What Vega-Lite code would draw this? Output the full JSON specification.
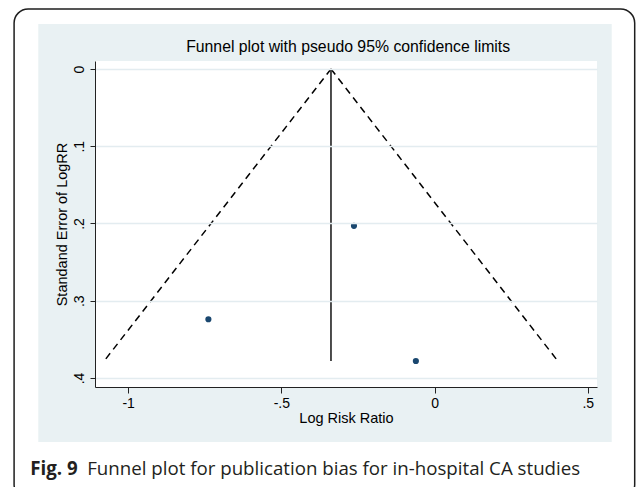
{
  "$schema": "https://vega.github.io/schema/vega-lite/v6.json",
  "width": 502,
  "height": 326,
  "autosize": {"type": "none"},
  "padding": {"left": 95, "top": 61, "right": 40, "bottom": 100},
  "background": "white",
  "datasets": {
    "studies": [
      {"logrr": -0.738, "se": 0.324},
      {"logrr": -0.263, "se": 0.203},
      {"logrr": -0.061, "se": 0.378}
    ],
    "funnel": [
      {"limit": "lower", "logrr": -0.338, "se": 0},
      {"limit": "lower", "logrr": -1.078, "se": 0.378},
      {"limit": "upper", "logrr": -0.338, "se": 0},
      {"limit": "upper", "logrr": 0.402, "se": 0.378}
    ],
    "pooled": [
      {"logrr": -0.338, "se_top": 0, "se_bottom": 0.378}
    ],
    "single": [{}]
  },
  "layer": [
    {
      "data": {"name": "single"},
      "mark": {"type": "rect", "fill": "white", "stroke": "#1e1e1e", "strokeWidth": 1.5, "cornerRadius": 14},
      "encoding": {
        "x": {"datum": -1.372, "type": "quantitative", "title": "Log Risk Ratio"},
        "x2": {"datum": 0.653},
        "y": {"datum": -0.0777, "type": "quantitative", "title": "Standand Error of LogRR"},
        "y2": {"datum": 0.556}
      }
    },
    {
      "data": {"name": "single"},
      "mark": {"type": "rect", "fill": "#e9f1f3"},
      "encoding": {
        "x": {"datum": -1.293, "type": "quantitative", "title": "Log Risk Ratio"},
        "x2": {"datum": 0.578},
        "y": {"datum": -0.0583, "type": "quantitative", "title": "Standand Error of LogRR"},
        "y2": {"datum": 0.4828}
      }
    },
    {
      "data": {"name": "single"},
      "mark": {"type": "rect", "fill": "white"},
      "encoding": {
        "x": {"datum": -1.108, "type": "quantitative", "title": "Log Risk Ratio"},
        "x2": {"datum": 0.530},
        "y": {"datum": -0.0104, "type": "quantitative", "title": "Standand Error of LogRR"},
        "y2": {"datum": 0.4117}
      }
    },
    {
      "data": {"name": "single"},
      "mark": {"type": "text", "text": "Funnel plot with pseudo 95% confidence limits", "font": "Liberation Sans", "fontSize": 15.8, "color": "#000000", "align": "center", "baseline": "alphabetic"},
      "encoding": {
        "x": {"datum": -0.282, "type": "quantitative", "title": "Log Risk Ratio"},
        "y": {"datum": -0.0225, "type": "quantitative", "title": "Standand Error of LogRR"}
      }
    },
    {
      "data": {"name": "funnel"},
      "mark": {"type": "line", "color": "#000000", "strokeWidth": 1.5, "strokeDash": [7, 5]},
      "encoding": {
        "x": {"field": "logrr", "type": "quantitative", "title": "Log Risk Ratio"},
        "y": {"field": "se", "type": "quantitative", "title": "Standand Error of LogRR"},
        "detail": {"field": "limit"},
        "order": {"field": "se"}
      }
    },
    {
      "data": {"name": "pooled"},
      "mark": {"type": "rule", "color": "#000000", "strokeWidth": 1.4},
      "encoding": {
        "x": {"field": "logrr", "type": "quantitative", "title": "Log Risk Ratio"},
        "y": {"field": "se_top", "type": "quantitative", "title": "Standand Error of LogRR"},
        "y2": {"field": "se_bottom"}
      }
    },
    {
      "data": {"name": "studies"},
      "mark": {"type": "point", "filled": true, "color": "#1a476f", "opacity": 1, "size": 38},
      "encoding": {
        "x": {
          "field": "logrr",
          "type": "quantitative",
          "title": "Log Risk Ratio",
          "scale": {"domain": [-1.108, 0.530], "nice": false, "zero": false},
          "axis": {
            "values": [-1, -0.5, 0, 0.5],
            "labelExpr": "replace(toString(datum.value), '0.', '.')",
            "grid": false,
            "tickSize": 6,
            "labelPadding": 3,
            "titlePadding": 1,
            "zindex": 1
          }
        },
        "y": {
          "field": "se",
          "type": "quantitative",
          "title": "Standand Error of LogRR",
          "scale": {"domain": [-0.0104, 0.4117], "nice": false, "zero": false, "reverse": true},
          "axis": {
            "values": [0, 0.1, 0.2, 0.3, 0.4],
            "labelExpr": "replace(toString(datum.value), '0.', '.')",
            "grid": true,
            "gridColor": "#e3ecf0",
            "gridWidth": 1.5,
            "tickSize": 5,
            "labelAngle": -90,
            "labelAlign": "center",
            "labelBaseline": "alphabetic",
            "labelPadding": 7,
            "titlePadding": 3,
            "zindex": 1
          }
        }
      }
    },
    {
      "data": {"name": "single"},
      "mark": {"type": "text", "text": "Fig. 9", "font": "Open Sans", "fontSize": 18.7, "fontWeight": "bold", "color": "#231f20", "align": "left", "baseline": "alphabetic"},
      "encoding": {
        "x": {"datum": -1.3195, "type": "quantitative", "title": "Log Risk Ratio"},
        "y": {"datum": 0.5256, "type": "quantitative", "title": "Standand Error of LogRR"}
      }
    },
    {
      "data": {"name": "single"},
      "mark": {"type": "text", "text": "Funnel plot for publication bias for in-hospital CA studies", "font": "Open Sans", "fontSize": 18.7, "fontWeight": "normal", "color": "#231f20", "align": "left", "baseline": "alphabetic"},
      "encoding": {
        "x": {"datum": -1.1335, "type": "quantitative", "title": "Log Risk Ratio"},
        "y": {"datum": 0.5256, "type": "quantitative", "title": "Standand Error of LogRR"}
      }
    }
  ],
  "config": {
    "view": {"stroke": null},
    "axis": {
      "labelFont": "Liberation Sans",
      "labelFontSize": 14,
      "labelColor": "#000000",
      "titleFont": "Liberation Sans",
      "titleFontSize": 14.5,
      "titleFontWeight": "normal",
      "titleColor": "#000000",
      "domainColor": "#222222",
      "domainWidth": 1,
      "tickColor": "#222222",
      "tickWidth": 1
    }
  }
}
